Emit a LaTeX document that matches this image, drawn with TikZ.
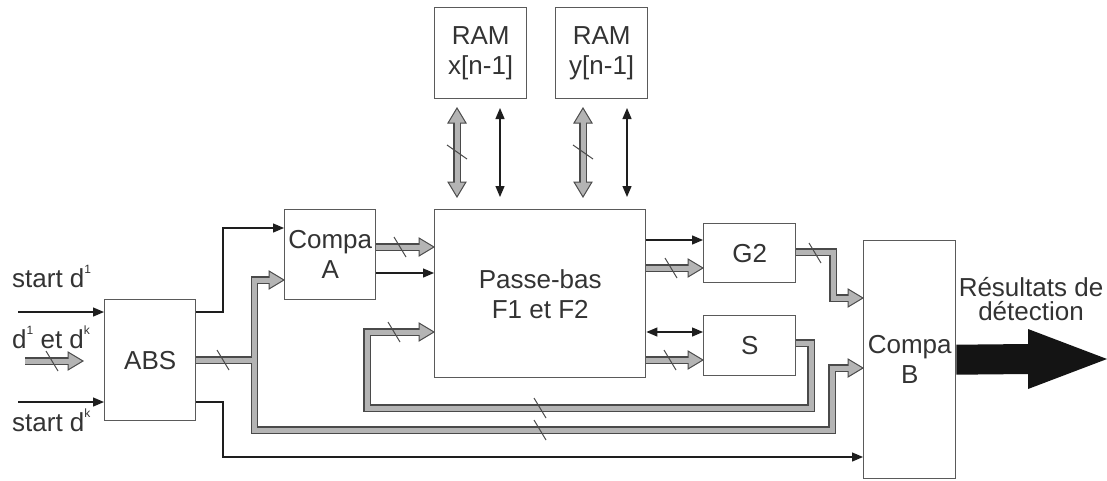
\documentclass[tikz,border=0pt]{standalone}
\usepackage{fontspec}
\setmainfont{Liberation Sans}
\usetikzlibrary{arrows.meta,calc}
\definecolor{txt}{HTML}{333333}
\definecolor{boxc}{HTML}{5A5A5A}
\definecolor{busd}{HTML}{4A4A4A}
\definecolor{busl}{HTML}{B4B4B4}
\definecolor{sigc}{HTML}{1E1E1E}
\definecolor{bigc}{HTML}{141414}
\newcommand{\sups}[1]{\raisebox{0.52em}{\fontsize{12}{12}\selectfont #1}}
\newcommand{\bhead}[2]{\filldraw[fill=busl,draw=busd,line width=1pt,line join=miter,shift={(#1)},rotate=#2] (0,0) -- (-15,9) -- (-15,-9) -- cycle;}
\newcommand{\hcut}[1]{\draw[cut] ($(#1)+(-6,-10)$) -- ($(#1)+(6,10)$);}
\newcommand{\vcut}[1]{\draw[cut] ($(#1)+(-10,-7)$) -- ($(#1)+(10,7)$);}
\newcommand{\allbus}[1]{%
\draw[#1] (bin) -- ($(hin)+(-13.5,0)$);
\draw[#1] (abs.east) -- (j1);
\draw[#1] ($(h1)+(-13.5,0)$) -- (j1|-h1) -- (j1|-lowb) -- (lowb) -- (lowb|-h9) -- ($(h9)+(-13.5,0)$);
\draw[#1] (cA.east|-h2) -- ($(h2)+(-13.5,0)$);
\draw[#1] ($(rxu)+(0,13.5)$) -- ($(rxd)+(0,-13.5)$);
\draw[#1] ($(ryu)+(0,13.5)$) -- ($(ryd)+(0,-13.5)$);
\draw[#1] (pb.east|-h5) -- ($(h5)+(-13.5,0)$);
\draw[#1] (pb.east|-h6) -- ($(h6)+(-13.5,0)$);
\draw[#1] (g2.east|-g2o) -- (g2o) -- (g2o|-h7) -- ($(h7)+(-13.5,0)$);
\draw[#1] (s.east|-so) -- (so) -- (so|-loopb) -- (loopb) -- (loopb|-h8) -- ($(h8)+(-13.5,0)$);
}
\begin{document}
\begin{tikzpicture}[x=1pt,y=-1pt,
  blk/.style={draw=boxc,line width=1.4pt,fill=white,text=txt,font=\fontsize{26}{30}\selectfont,align=center,inner sep=0pt,anchor=north west},
  lbl/.style={text=txt,font=\fontsize{26}{30}\selectfont,inner sep=0pt},
  sig/.style={draw=sigc,line width=1.3pt,-{Triangle[length=11pt,width=9pt]}},
  sigb/.style={draw=sigc,line width=1.3pt,{Triangle[length=11pt,width=9pt]}-{Triangle[length=11pt,width=9pt]}},
  busout/.style={draw=busd,line width=7.5pt},
  busin/.style={draw=busl,line width=5pt},
  cut/.style={draw=busd,line width=1pt},
]
\useasboundingbox (0,0) rectangle (1107,480);
\fill[white] (0,0) rectangle (1107,480);
% blocks
\node[blk,minimum width=91pt,minimum height=121pt] (abs) at (104,299) {ABS};
\node[blk,minimum width=91pt,minimum height=90pt] (cA) at (284,209) {Compa\\A};
\node[blk,minimum width=211pt,minimum height=168pt] (pb) at (434,209) {Passe-bas\\F1 et F2};
\node[blk,minimum width=92pt,minimum height=91pt] (ramx) at (434,7) {RAM\\x[n-1]};
\node[blk,minimum width=92pt,minimum height=91pt] (ramy) at (555,7) {RAM\\y[n-1]};
\node[blk,minimum width=92pt,minimum height=59pt] (g2) at (703,223) {G2};
\node[blk,minimum width=92pt,minimum height=60pt] (s) at (703,315) {S};
\node[blk,minimum width=92pt,minimum height=238pt] (cB) at (863,240) {Compa\\B};
% labels
\node[lbl,anchor=base west] (l1) at (12,287) {start d\sups{1}};
\node[lbl,anchor=base west] (l2) at (12,348) {d\sups{1} et d\sups{k}};
\node[lbl,anchor=base west] (l3) at (12,431) {start d\sups{k}};
\node[lbl,anchor=base] (r1) at (1031,296) {Résultats de};
\node[lbl,anchor=base] (r2) at (1031,320) {détection};
% coordinates
\coordinate (bin) at (25,361);
\coordinate (hin) at (83,361);
\coordinate (j1) at ($(abs.east)+(58,0)$);
\coordinate (h1) at (cA.west|-0,280);
\coordinate (h2) at (pb.west|-0,247);
\coordinate (lowb) at (832,430);
\coordinate (h9) at (cB.west|-0,368);
\coordinate (rxu) at (457,108);
\coordinate (rxd) at (457,197);
\coordinate (ryu) at (583,108);
\coordinate (ryd) at (583,197);
\coordinate (h5) at (g2.west|-0,268);
\coordinate (h6) at (s.west|-0,360);
\coordinate (g2o) at (833,252);
\coordinate (h7) at (cB.west|-0,298);
\coordinate (so) at (811,343);
\coordinate (loopb) at (367,408);
\coordinate (h8) at (pb.west|-0,332);
\coordinate (sd1) at (18,312);
\coordinate (sdk) at (18,402);
\coordinate (k1) at (223,312);
\coordinate (k2) at (223,228);
\coordinate (k3) at (223,402);
\coordinate (k4) at (223,457);
\coordinate (rxt1) at (500,108);
\coordinate (rxt2) at (500,197);
\coordinate (ryt1) at (627,108);
\coordinate (ryt2) at (627,197);
\coordinate (outtip) at (1107,359);
% buses
\allbus{busout}
\bhead{hin}{0}
\bhead{h1}{0}
\bhead{h2}{0}
\bhead{rxu}{90}
\bhead{rxd}{-90}
\bhead{ryu}{90}
\bhead{ryd}{-90}
\bhead{h5}{0}
\bhead{h6}{0}
\bhead{h7}{0}
\bhead{h8}{0}
\bhead{h9}{0}
\allbus{busin}
\hcut{52,361}
\hcut{223,360}
\hcut{400,247}
\vcut{457,152}
\vcut{583,152}
\hcut{671,268}
\hcut{670,360}
\hcut{815,253}
\hcut{394,332}
\hcut{540,408}
\hcut{540,430}
% signals
\draw[sig] (sd1) -- (abs.west|-sd1);
\draw[sig] (sdk) -- (abs.west|-sdk);
\draw[sig] (abs.east|-k1) -- (k1) -- (k2) -- (cA.west|-k2);
\draw[sig] (abs.east|-k3) -- (k3) -- (k4) -- (cB.west|-k4);
\draw[sig] (cA.east|-0,273) -- (pb.west|-0,273);
\draw[sigb] (rxt1) -- (rxt2);
\draw[sigb] (ryt1) -- (ryt2);
\draw[sig] (pb.east|-0,240) -- (g2.west|-0,240);
\draw[sigb] (pb.east|-0,332) -- (s.west|-0,332);
% output
\fill[bigc] ($(cB.east)+(0,-15)$) -- ($(outtip)+(-79,-15)$) -- ($(outtip)+(-79,-30)$) -- (outtip) -- ($(outtip)+(-79,30)$) -- ($(outtip)+(-79,15)$) -- ($(cB.east)+(0,15)$) -- cycle;
\end{tikzpicture}
\end{document}
